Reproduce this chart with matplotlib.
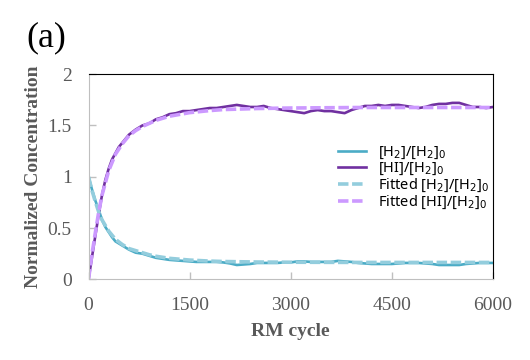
import matplotlib
matplotlib.use("Agg")
import matplotlib.pyplot as plt

# RM cycle positions of the sampled curves
cycles = [0, 50, 100, 150, 200, 250, 300, 350, 400, 450, 500, 600, 700, 800, 900,
          1000, 1100, 1200, 1300, 1400, 1500, 1600, 1700, 1800, 1900, 2000, 2100,
          2200, 2300, 2400, 2500, 2600, 2700, 2800, 2900, 3000, 3100, 3200, 3300,
          3400, 3500, 3600, 3700, 3800, 3900, 4000, 4100, 4200, 4300, 4400, 4500,
          4600, 4700, 4800, 4900, 5000, 5100, 5200, 5300, 5400, 5500, 5600, 5700,
          5800, 5900, 6000]

h2_ratio = [1.00, 0.88, 0.77, 0.68, 0.58, 0.51, 0.46, 0.41, 0.37, 0.35, 0.33, 0.29,
            0.26, 0.25, 0.23, 0.21, 0.20, 0.19, 0.185, 0.18, 0.175, 0.17, 0.17, 0.17,
            0.17, 0.165, 0.155, 0.14, 0.145, 0.15, 0.16, 0.16, 0.16, 0.16, 0.165,
            0.165, 0.175, 0.175, 0.17, 0.17, 0.17, 0.17, 0.18, 0.175, 0.17, 0.16,
            0.155, 0.15, 0.15, 0.15, 0.15, 0.155, 0.16, 0.16, 0.16, 0.155, 0.15,
            0.14, 0.14, 0.14, 0.14, 0.15, 0.155, 0.16, 0.16, 0.16]

hi_ratio = [0.0, 0.21, 0.42, 0.63, 0.82, 0.97, 1.08, 1.17, 1.23, 1.29, 1.33, 1.41,
            1.46, 1.50, 1.52, 1.56, 1.58, 1.61, 1.62, 1.64, 1.64, 1.65, 1.66, 1.67,
            1.67, 1.68, 1.69, 1.70, 1.69, 1.68, 1.68, 1.69, 1.67, 1.66, 1.65, 1.64,
            1.63, 1.62, 1.64, 1.65, 1.64, 1.64, 1.63, 1.62, 1.65, 1.67, 1.69, 1.69,
            1.70, 1.69, 1.70, 1.70, 1.69, 1.68, 1.67, 1.68, 1.70, 1.71, 1.71, 1.72,
            1.72, 1.70, 1.68, 1.68, 1.67, 1.68]

# fitted curves
fit_cycles = [0, 50, 100, 150, 200, 300, 400, 500, 600, 700, 800, 900, 1000, 1200,
              1500, 1800, 2000, 2500, 3000, 4000, 5000, 6000]
h2_fit = [1.0, 0.87, 0.76, 0.66, 0.58, 0.47, 0.39, 0.34, 0.30, 0.28, 0.26, 0.24,
          0.225, 0.205, 0.188, 0.178, 0.174, 0.169, 0.167, 0.165, 0.165, 0.165]
hi_fit = [0.0, 0.24, 0.45, 0.65, 0.82, 1.06, 1.22, 1.32, 1.40, 1.45, 1.49, 1.52,
          1.55, 1.59, 1.625, 1.645, 1.655, 1.665, 1.67, 1.675, 1.675, 1.675]

labels = [r"[H$_2$]/[H$_2$]$_0$", r"[HI]/[H$_2$]$_0$",
          r"Fitted [H$_2$]/[H$_2$]$_0$", r"Fitted [HI]/[H$_2$]$_0$"]

fig = plt.figure(figsize=(5.3, 3.6), dpi=100)
ax = fig.add_axes([0.167, 0.224, 0.763, 0.570])

gray = "#595959"
ax.plot(cycles, h2_ratio, color="#4bacc6", lw=1.9, label=labels[0])
ax.plot(cycles, hi_ratio, color="#7030a0", lw=1.9, label=labels[1])
ax.plot(fit_cycles, h2_fit, color="#93cddd", lw=2.6, dashes=(2.9, 1.0), label=labels[2])
ax.plot(fit_cycles, hi_fit, color="#cc99ff", lw=2.6, dashes=(2.9, 1.0), label=labels[3])

ax.set_xlim(0, 6000)
ax.set_ylim(0, 2)
ax.set_xticks([0, 1500, 3000, 4500, 6000])
ax.set_yticks([0, 0.5, 1, 1.5, 2])
ax.set_yticklabels(["0", "0.5", "1", "1.5", "2"])

for s in ["left", "bottom"]:
    ax.spines[s].set_color("#bfbfbf")
for s in ["top", "right"]:
    ax.spines[s].set_color("black")

ax.tick_params(direction="in", length=5, color="#bfbfbf", labelcolor=gray,
               labelsize=14, width=1)
ax.tick_params(axis="x", pad=13)
ax.tick_params(axis="y", pad=12)
for t in ax.get_xticklabels() + ax.get_yticklabels():
    t.set_fontfamily("Liberation Serif")

ax.set_xlabel("RM cycle", fontsize=14, fontweight="bold", color=gray,
              fontfamily="Liberation Serif", labelpad=6)
ax.set_ylabel("Normalized Concentration", fontsize=14, fontweight="bold",
              color=gray, fontfamily="Liberation Serif", labelpad=4)

leg = ax.legend(loc="upper left", bbox_to_anchor=(0.585, 0.72), frameon=False,
                handlelength=1.9, handletextpad=0.8, labelspacing=-0.02,
                prop={"family": "Noto Sans", "size": 10.5})

fig.text(0.05, 0.895, "(a)", fontsize=26, fontfamily="Liberation Serif",
         va="center", ha="left")

fig.savefig("out.png", dpi=100)
